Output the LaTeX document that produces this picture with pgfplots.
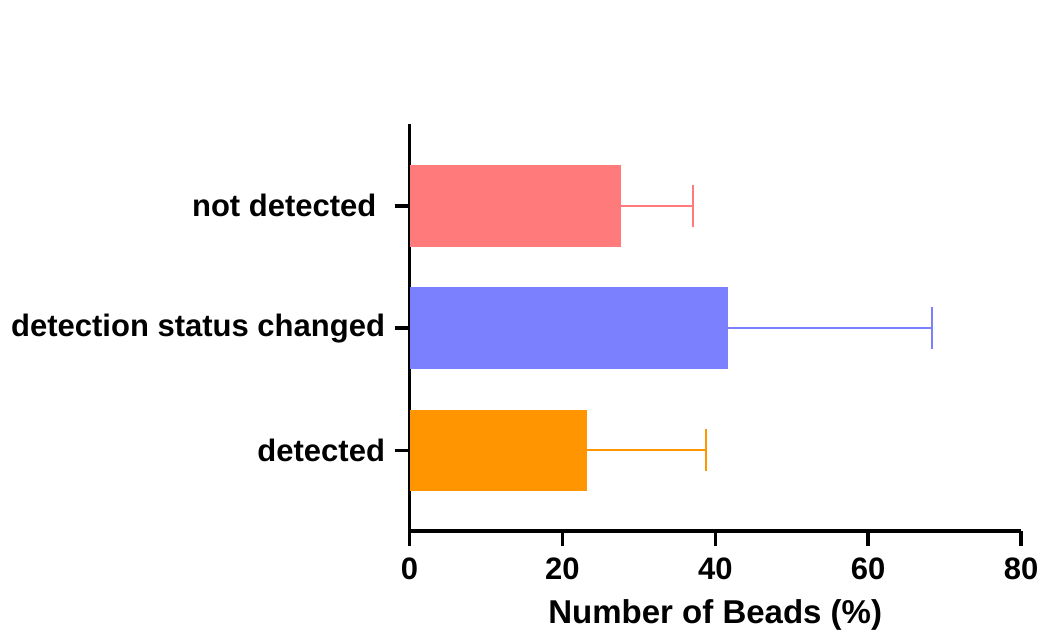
\documentclass[border=0pt]{standalone}
\usepackage{pgfplots}
\pgfplotsset{compat=1.18}
\usepackage{fontspec}
\setmainfont{Liberation Sans}
\definecolor{cRed}{RGB}{255,123,123}
\definecolor{cBlue}{RGB}{123,128,255}
\definecolor{cOrange}{RGB}{255,149,0}
\begin{document}
\begin{tikzpicture}
\useasboundingbox (0,0) rectangle (1043pt,636pt);
\begin{axis}[
  at={(409.5pt,105pt)}, anchor=south west,
  scale only axis, width=611.5pt, height=407pt,
  xbar, bar width=81.5pt, bar shift=0pt,
  xmin=0, xmax=80, ymin=-0.66, ymax=2.67,
  axis lines*=left,
  axis line style={line width=3.5pt, black},
  xtick={0,20,40,60,80},
  ytick={0,1,2},
  yticklabels={detected, detection status changed, {not detected\hspace*{8.6pt}}},
  tick align=outside,
  major tick length=15pt,
  every tick/.style={line width=3.5pt, black},
  /pgf/number format/assume math mode=true,
  tick label style={font=\fontsize{31}{36}\selectfont\bfseries},
  xticklabel style={yshift=-8pt},
  yticklabel style={xshift=-6pt},
  xlabel={Number of Beads (\%)},
  xlabel style={font=\fontsize{33}{38}\selectfont\bfseries, yshift=-13pt},
  error bars/x dir=plus, error bars/x explicit,
]
\addplot[fill=cOrange, draw=none,
  error bars/error bar style={line width=2pt, cOrange},
  error bars/error mark options={rotate=90, line width=2pt, mark size=21pt, cOrange}]
  coordinates {(23.2,0) +- (15.6,0)};
\addplot[fill=cBlue, draw=none,
  error bars/error bar style={line width=2pt, cBlue},
  error bars/error mark options={rotate=90, line width=2pt, mark size=21pt, cBlue}]
  coordinates {(41.7,1) +- (26.6,0)};
\addplot[fill=cRed, draw=none,
  error bars/error bar style={line width=2pt, cRed},
  error bars/error mark options={rotate=90, line width=2pt, mark size=21pt, cRed}]
  coordinates {(27.7,2) +- (9.4,0)};
\end{axis}
\end{tikzpicture}
\end{document}
